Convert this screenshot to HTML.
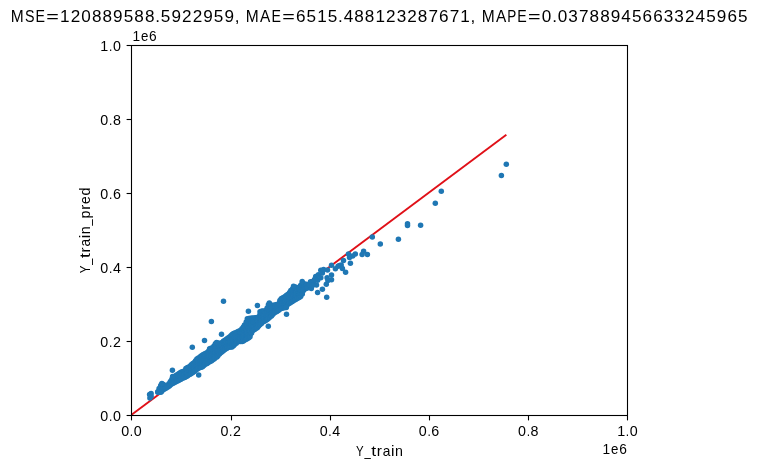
<!DOCTYPE html>
<html><head><meta charset="utf-8"><title>chart</title>
<style>html,body{margin:0;padding:0;background:#fff;overflow:hidden}body{width:758px;height:468px;font-family:"Liberation Sans",sans-serif}</style></head>
<body>
<svg width="758" height="468" viewBox="0 0 758 468" style="display:block;will-change:transform">
<rect width="758" height="468" fill="#fff"/>
<clipPath id="ax"><rect x="131.5" y="45.5" width="496.0" height="370.0"/></clipPath>
<line x1="131.5" y1="414.8" x2="505.6" y2="135.3" stroke="#e01018" stroke-width="1.9" stroke-linecap="square" clip-path="url(#ax)"/>
<g fill="#1f77b4">
<circle cx="157.8" cy="391.7" r="2.75"/>
<circle cx="159.1" cy="388.5" r="2.75"/>
<circle cx="159.4" cy="390.3" r="2.75"/>
<circle cx="159.1" cy="392.2" r="2.75"/>
<circle cx="160.7" cy="385.5" r="2.75"/>
<circle cx="160.6" cy="387.6" r="2.75"/>
<circle cx="160.5" cy="389.8" r="2.75"/>
<circle cx="160.7" cy="392.0" r="2.75"/>
<circle cx="161.8" cy="384.3" r="2.75"/>
<circle cx="162.0" cy="386.5" r="2.75"/>
<circle cx="161.9" cy="388.6" r="2.75"/>
<circle cx="161.9" cy="390.8" r="2.75"/>
<circle cx="163.4" cy="384.5" r="2.75"/>
<circle cx="163.6" cy="387.1" r="2.75"/>
<circle cx="163.3" cy="389.7" r="2.75"/>
<circle cx="164.7" cy="385.4" r="2.75"/>
<circle cx="164.9" cy="388.8" r="2.75"/>
<circle cx="166.5" cy="385.5" r="2.75"/>
<circle cx="166.3" cy="387.9" r="2.75"/>
<circle cx="167.6" cy="385.7" r="2.75"/>
<circle cx="167.9" cy="387.0" r="2.75"/>
<circle cx="168.9" cy="383.7" r="2.75"/>
<circle cx="169.3" cy="386.0" r="2.75"/>
<circle cx="170.4" cy="381.4" r="2.75"/>
<circle cx="170.3" cy="383.3" r="2.75"/>
<circle cx="170.3" cy="385.1" r="2.75"/>
<circle cx="171.8" cy="379.3" r="2.75"/>
<circle cx="172.0" cy="381.7" r="2.75"/>
<circle cx="171.7" cy="384.1" r="2.75"/>
<circle cx="173.3" cy="377.6" r="2.75"/>
<circle cx="173.3" cy="380.4" r="2.75"/>
<circle cx="173.2" cy="383.3" r="2.75"/>
<circle cx="174.7" cy="376.5" r="2.75"/>
<circle cx="174.5" cy="379.5" r="2.75"/>
<circle cx="174.5" cy="382.5" r="2.75"/>
<circle cx="175.9" cy="375.4" r="2.75"/>
<circle cx="176.2" cy="377.5" r="2.75"/>
<circle cx="176.0" cy="379.6" r="2.75"/>
<circle cx="176.0" cy="381.7" r="2.75"/>
<circle cx="177.5" cy="374.4" r="2.75"/>
<circle cx="177.5" cy="376.6" r="2.75"/>
<circle cx="177.4" cy="378.7" r="2.75"/>
<circle cx="177.6" cy="380.9" r="2.75"/>
<circle cx="179.0" cy="373.4" r="2.75"/>
<circle cx="178.8" cy="375.7" r="2.75"/>
<circle cx="178.9" cy="377.9" r="2.75"/>
<circle cx="178.9" cy="380.2" r="2.75"/>
<circle cx="180.5" cy="372.4" r="2.75"/>
<circle cx="180.4" cy="374.8" r="2.75"/>
<circle cx="180.2" cy="377.1" r="2.75"/>
<circle cx="180.5" cy="379.5" r="2.75"/>
<circle cx="181.5" cy="371.9" r="2.75"/>
<circle cx="181.6" cy="374.2" r="2.75"/>
<circle cx="181.8" cy="376.5" r="2.75"/>
<circle cx="181.5" cy="378.8" r="2.75"/>
<circle cx="183.1" cy="371.5" r="2.75"/>
<circle cx="182.8" cy="373.7" r="2.75"/>
<circle cx="183.2" cy="375.9" r="2.75"/>
<circle cx="183.2" cy="378.1" r="2.75"/>
<circle cx="184.5" cy="370.9" r="2.75"/>
<circle cx="184.7" cy="373.1" r="2.75"/>
<circle cx="184.4" cy="375.2" r="2.75"/>
<circle cx="184.6" cy="377.4" r="2.75"/>
<circle cx="185.9" cy="368.5" r="2.75"/>
<circle cx="185.9" cy="371.2" r="2.75"/>
<circle cx="185.9" cy="373.9" r="2.75"/>
<circle cx="186.0" cy="376.7" r="2.75"/>
<circle cx="187.5" cy="367.5" r="2.75"/>
<circle cx="187.3" cy="369.6" r="2.75"/>
<circle cx="187.4" cy="371.7" r="2.75"/>
<circle cx="187.1" cy="373.8" r="2.75"/>
<circle cx="187.4" cy="375.9" r="2.75"/>
<circle cx="188.8" cy="367.3" r="2.75"/>
<circle cx="188.9" cy="369.9" r="2.75"/>
<circle cx="188.8" cy="372.5" r="2.75"/>
<circle cx="188.6" cy="375.1" r="2.75"/>
<circle cx="190.0" cy="366.3" r="2.75"/>
<circle cx="190.2" cy="368.9" r="2.75"/>
<circle cx="189.8" cy="371.6" r="2.75"/>
<circle cx="190.1" cy="374.3" r="2.75"/>
<circle cx="191.3" cy="364.8" r="2.75"/>
<circle cx="191.3" cy="367.0" r="2.75"/>
<circle cx="191.3" cy="369.1" r="2.75"/>
<circle cx="191.6" cy="371.3" r="2.75"/>
<circle cx="191.3" cy="373.4" r="2.75"/>
<circle cx="192.8" cy="363.6" r="2.75"/>
<circle cx="192.8" cy="365.8" r="2.75"/>
<circle cx="193.1" cy="368.0" r="2.75"/>
<circle cx="192.7" cy="370.2" r="2.75"/>
<circle cx="192.9" cy="372.4" r="2.75"/>
<circle cx="194.3" cy="362.4" r="2.75"/>
<circle cx="194.5" cy="364.6" r="2.75"/>
<circle cx="194.4" cy="366.9" r="2.75"/>
<circle cx="194.5" cy="369.2" r="2.75"/>
<circle cx="194.2" cy="371.4" r="2.75"/>
<circle cx="195.6" cy="360.7" r="2.75"/>
<circle cx="195.6" cy="363.1" r="2.75"/>
<circle cx="195.9" cy="365.5" r="2.75"/>
<circle cx="195.9" cy="367.9" r="2.75"/>
<circle cx="195.5" cy="370.4" r="2.75"/>
<circle cx="196.9" cy="358.9" r="2.75"/>
<circle cx="196.9" cy="361.5" r="2.75"/>
<circle cx="196.9" cy="364.1" r="2.75"/>
<circle cx="197.1" cy="366.7" r="2.75"/>
<circle cx="197.1" cy="369.3" r="2.75"/>
<circle cx="198.4" cy="357.9" r="2.75"/>
<circle cx="198.2" cy="360.4" r="2.75"/>
<circle cx="198.4" cy="363.0" r="2.75"/>
<circle cx="198.4" cy="365.6" r="2.75"/>
<circle cx="198.5" cy="368.2" r="2.75"/>
<circle cx="200.1" cy="356.9" r="2.75"/>
<circle cx="200.0" cy="359.6" r="2.75"/>
<circle cx="199.9" cy="362.2" r="2.75"/>
<circle cx="199.9" cy="364.9" r="2.75"/>
<circle cx="200.0" cy="367.6" r="2.75"/>
<circle cx="201.1" cy="355.9" r="2.75"/>
<circle cx="201.5" cy="358.1" r="2.75"/>
<circle cx="201.4" cy="360.4" r="2.75"/>
<circle cx="201.5" cy="362.7" r="2.75"/>
<circle cx="201.4" cy="364.9" r="2.75"/>
<circle cx="201.2" cy="367.2" r="2.75"/>
<circle cx="202.6" cy="354.9" r="2.75"/>
<circle cx="202.5" cy="357.3" r="2.75"/>
<circle cx="202.7" cy="359.6" r="2.75"/>
<circle cx="202.5" cy="362.0" r="2.75"/>
<circle cx="202.5" cy="364.4" r="2.75"/>
<circle cx="202.5" cy="366.8" r="2.75"/>
<circle cx="203.9" cy="354.2" r="2.75"/>
<circle cx="204.0" cy="356.5" r="2.75"/>
<circle cx="203.9" cy="358.7" r="2.75"/>
<circle cx="203.8" cy="361.0" r="2.75"/>
<circle cx="203.9" cy="363.3" r="2.75"/>
<circle cx="203.9" cy="365.5" r="2.75"/>
<circle cx="205.4" cy="353.5" r="2.75"/>
<circle cx="205.2" cy="356.2" r="2.75"/>
<circle cx="205.7" cy="358.9" r="2.75"/>
<circle cx="205.5" cy="361.6" r="2.75"/>
<circle cx="205.3" cy="364.2" r="2.75"/>
<circle cx="206.8" cy="352.8" r="2.75"/>
<circle cx="206.8" cy="355.5" r="2.75"/>
<circle cx="206.8" cy="358.1" r="2.75"/>
<circle cx="206.7" cy="360.8" r="2.75"/>
<circle cx="207.1" cy="363.4" r="2.75"/>
<circle cx="208.5" cy="351.2" r="2.75"/>
<circle cx="208.3" cy="353.5" r="2.75"/>
<circle cx="208.3" cy="355.8" r="2.75"/>
<circle cx="208.1" cy="358.1" r="2.75"/>
<circle cx="208.1" cy="360.3" r="2.75"/>
<circle cx="208.2" cy="362.6" r="2.75"/>
<circle cx="209.6" cy="348.8" r="2.75"/>
<circle cx="209.8" cy="351.4" r="2.75"/>
<circle cx="209.5" cy="354.0" r="2.75"/>
<circle cx="209.4" cy="356.6" r="2.75"/>
<circle cx="209.9" cy="359.2" r="2.75"/>
<circle cx="209.7" cy="361.8" r="2.75"/>
<circle cx="210.9" cy="348.2" r="2.75"/>
<circle cx="211.1" cy="350.7" r="2.75"/>
<circle cx="210.8" cy="353.3" r="2.75"/>
<circle cx="211.1" cy="355.9" r="2.75"/>
<circle cx="211.3" cy="358.5" r="2.75"/>
<circle cx="211.3" cy="361.0" r="2.75"/>
<circle cx="212.6" cy="347.8" r="2.75"/>
<circle cx="212.4" cy="350.3" r="2.75"/>
<circle cx="212.4" cy="352.7" r="2.75"/>
<circle cx="212.3" cy="355.2" r="2.75"/>
<circle cx="212.6" cy="357.7" r="2.75"/>
<circle cx="212.5" cy="360.1" r="2.75"/>
<circle cx="214.0" cy="346.0" r="2.75"/>
<circle cx="213.8" cy="348.6" r="2.75"/>
<circle cx="213.7" cy="351.2" r="2.75"/>
<circle cx="214.0" cy="353.8" r="2.75"/>
<circle cx="214.1" cy="356.4" r="2.75"/>
<circle cx="214.1" cy="359.1" r="2.75"/>
<circle cx="215.4" cy="343.7" r="2.75"/>
<circle cx="215.4" cy="346.1" r="2.75"/>
<circle cx="215.4" cy="348.4" r="2.75"/>
<circle cx="215.1" cy="350.8" r="2.75"/>
<circle cx="215.3" cy="353.2" r="2.75"/>
<circle cx="215.2" cy="355.6" r="2.75"/>
<circle cx="215.0" cy="358.0" r="2.75"/>
<circle cx="216.4" cy="343.1" r="2.75"/>
<circle cx="216.6" cy="345.4" r="2.75"/>
<circle cx="216.6" cy="347.7" r="2.75"/>
<circle cx="216.8" cy="350.0" r="2.75"/>
<circle cx="216.9" cy="352.3" r="2.75"/>
<circle cx="216.7" cy="354.7" r="2.75"/>
<circle cx="216.9" cy="357.0" r="2.75"/>
<circle cx="218.3" cy="343.3" r="2.75"/>
<circle cx="218.3" cy="345.8" r="2.75"/>
<circle cx="218.0" cy="348.3" r="2.75"/>
<circle cx="217.9" cy="350.8" r="2.75"/>
<circle cx="217.9" cy="353.3" r="2.75"/>
<circle cx="217.9" cy="355.8" r="2.75"/>
<circle cx="219.3" cy="343.3" r="2.75"/>
<circle cx="219.5" cy="346.0" r="2.75"/>
<circle cx="219.7" cy="348.7" r="2.75"/>
<circle cx="219.7" cy="351.4" r="2.75"/>
<circle cx="219.5" cy="354.1" r="2.75"/>
<circle cx="221.0" cy="343.4" r="2.75"/>
<circle cx="221.0" cy="345.6" r="2.75"/>
<circle cx="220.7" cy="347.9" r="2.75"/>
<circle cx="221.0" cy="350.2" r="2.75"/>
<circle cx="221.1" cy="352.4" r="2.75"/>
<circle cx="222.4" cy="342.2" r="2.75"/>
<circle cx="222.4" cy="344.5" r="2.75"/>
<circle cx="222.3" cy="346.8" r="2.75"/>
<circle cx="222.1" cy="349.2" r="2.75"/>
<circle cx="222.4" cy="351.5" r="2.75"/>
<circle cx="223.6" cy="340.9" r="2.75"/>
<circle cx="223.8" cy="343.3" r="2.75"/>
<circle cx="223.9" cy="345.7" r="2.75"/>
<circle cx="223.6" cy="348.1" r="2.75"/>
<circle cx="223.6" cy="350.5" r="2.75"/>
<circle cx="225.3" cy="339.9" r="2.75"/>
<circle cx="225.2" cy="342.3" r="2.75"/>
<circle cx="224.9" cy="344.8" r="2.75"/>
<circle cx="224.9" cy="347.2" r="2.75"/>
<circle cx="224.9" cy="349.6" r="2.75"/>
<circle cx="226.7" cy="339.0" r="2.75"/>
<circle cx="226.6" cy="341.4" r="2.75"/>
<circle cx="226.3" cy="343.8" r="2.75"/>
<circle cx="226.6" cy="346.1" r="2.75"/>
<circle cx="226.7" cy="348.5" r="2.75"/>
<circle cx="228.0" cy="338.1" r="2.75"/>
<circle cx="227.8" cy="340.4" r="2.75"/>
<circle cx="227.9" cy="342.7" r="2.75"/>
<circle cx="227.7" cy="345.1" r="2.75"/>
<circle cx="227.6" cy="347.4" r="2.75"/>
<circle cx="229.5" cy="337.0" r="2.75"/>
<circle cx="229.4" cy="339.6" r="2.75"/>
<circle cx="229.3" cy="342.1" r="2.75"/>
<circle cx="229.5" cy="344.7" r="2.75"/>
<circle cx="229.2" cy="347.2" r="2.75"/>
<circle cx="230.9" cy="335.8" r="2.75"/>
<circle cx="230.8" cy="338.0" r="2.75"/>
<circle cx="230.5" cy="340.3" r="2.75"/>
<circle cx="230.6" cy="342.5" r="2.75"/>
<circle cx="230.6" cy="344.8" r="2.75"/>
<circle cx="230.6" cy="347.1" r="2.75"/>
<circle cx="232.1" cy="334.5" r="2.75"/>
<circle cx="232.0" cy="337.0" r="2.75"/>
<circle cx="232.0" cy="339.5" r="2.75"/>
<circle cx="231.9" cy="341.9" r="2.75"/>
<circle cx="232.3" cy="344.4" r="2.75"/>
<circle cx="232.0" cy="346.9" r="2.75"/>
<circle cx="233.5" cy="333.6" r="2.75"/>
<circle cx="233.5" cy="336.0" r="2.75"/>
<circle cx="233.7" cy="338.4" r="2.75"/>
<circle cx="233.4" cy="340.9" r="2.75"/>
<circle cx="233.7" cy="343.3" r="2.75"/>
<circle cx="233.5" cy="345.7" r="2.75"/>
<circle cx="234.9" cy="333.0" r="2.75"/>
<circle cx="234.9" cy="335.3" r="2.75"/>
<circle cx="234.6" cy="337.7" r="2.75"/>
<circle cx="234.9" cy="340.0" r="2.75"/>
<circle cx="234.7" cy="342.3" r="2.75"/>
<circle cx="234.6" cy="344.6" r="2.75"/>
<circle cx="236.4" cy="332.5" r="2.75"/>
<circle cx="236.1" cy="335.2" r="2.75"/>
<circle cx="236.3" cy="337.8" r="2.75"/>
<circle cx="236.4" cy="340.5" r="2.75"/>
<circle cx="236.3" cy="343.2" r="2.75"/>
<circle cx="237.6" cy="331.8" r="2.75"/>
<circle cx="237.7" cy="334.2" r="2.75"/>
<circle cx="237.7" cy="336.6" r="2.75"/>
<circle cx="237.8" cy="339.0" r="2.75"/>
<circle cx="237.5" cy="341.4" r="2.75"/>
<circle cx="239.1" cy="331.1" r="2.75"/>
<circle cx="239.0" cy="333.7" r="2.75"/>
<circle cx="239.0" cy="336.3" r="2.75"/>
<circle cx="239.2" cy="338.9" r="2.75"/>
<circle cx="239.1" cy="341.4" r="2.75"/>
<circle cx="240.5" cy="330.4" r="2.75"/>
<circle cx="240.6" cy="332.6" r="2.75"/>
<circle cx="240.7" cy="334.8" r="2.75"/>
<circle cx="240.5" cy="337.0" r="2.75"/>
<circle cx="240.5" cy="339.2" r="2.75"/>
<circle cx="240.5" cy="341.5" r="2.75"/>
<circle cx="241.9" cy="328.8" r="2.75"/>
<circle cx="242.0" cy="331.4" r="2.75"/>
<circle cx="241.9" cy="333.9" r="2.75"/>
<circle cx="241.9" cy="336.5" r="2.75"/>
<circle cx="241.9" cy="339.0" r="2.75"/>
<circle cx="242.1" cy="341.5" r="2.75"/>
<circle cx="243.4" cy="327.1" r="2.75"/>
<circle cx="243.5" cy="329.4" r="2.75"/>
<circle cx="243.5" cy="331.7" r="2.75"/>
<circle cx="243.2" cy="334.1" r="2.75"/>
<circle cx="243.3" cy="336.4" r="2.75"/>
<circle cx="243.5" cy="338.7" r="2.75"/>
<circle cx="243.4" cy="341.0" r="2.75"/>
<circle cx="244.5" cy="324.9" r="2.75"/>
<circle cx="244.5" cy="327.4" r="2.75"/>
<circle cx="244.7" cy="329.9" r="2.75"/>
<circle cx="244.5" cy="332.4" r="2.75"/>
<circle cx="244.6" cy="334.9" r="2.75"/>
<circle cx="244.5" cy="337.4" r="2.75"/>
<circle cx="244.8" cy="339.9" r="2.75"/>
<circle cx="246.2" cy="322.0" r="2.75"/>
<circle cx="246.3" cy="324.4" r="2.75"/>
<circle cx="245.9" cy="326.9" r="2.75"/>
<circle cx="246.2" cy="329.3" r="2.75"/>
<circle cx="246.2" cy="331.8" r="2.75"/>
<circle cx="245.9" cy="334.3" r="2.75"/>
<circle cx="246.3" cy="336.7" r="2.75"/>
<circle cx="246.3" cy="339.2" r="2.75"/>
<circle cx="247.3" cy="318.8" r="2.75"/>
<circle cx="247.7" cy="321.2" r="2.75"/>
<circle cx="247.4" cy="323.7" r="2.75"/>
<circle cx="247.5" cy="326.1" r="2.75"/>
<circle cx="247.7" cy="328.6" r="2.75"/>
<circle cx="247.6" cy="331.1" r="2.75"/>
<circle cx="247.3" cy="333.5" r="2.75"/>
<circle cx="247.4" cy="336.0" r="2.75"/>
<circle cx="247.5" cy="338.5" r="2.75"/>
<circle cx="248.8" cy="318.4" r="2.75"/>
<circle cx="248.7" cy="320.8" r="2.75"/>
<circle cx="248.8" cy="323.2" r="2.75"/>
<circle cx="249.0" cy="325.6" r="2.75"/>
<circle cx="248.6" cy="328.1" r="2.75"/>
<circle cx="248.9" cy="330.5" r="2.75"/>
<circle cx="248.9" cy="332.9" r="2.75"/>
<circle cx="248.6" cy="335.3" r="2.75"/>
<circle cx="248.8" cy="337.7" r="2.75"/>
<circle cx="250.3" cy="318.3" r="2.75"/>
<circle cx="250.3" cy="320.6" r="2.75"/>
<circle cx="250.1" cy="322.9" r="2.75"/>
<circle cx="250.5" cy="325.2" r="2.75"/>
<circle cx="250.4" cy="327.5" r="2.75"/>
<circle cx="250.5" cy="329.8" r="2.75"/>
<circle cx="250.1" cy="332.1" r="2.75"/>
<circle cx="250.2" cy="334.4" r="2.75"/>
<circle cx="250.0" cy="336.7" r="2.75"/>
<circle cx="251.8" cy="318.2" r="2.75"/>
<circle cx="251.6" cy="320.7" r="2.75"/>
<circle cx="251.5" cy="323.1" r="2.75"/>
<circle cx="251.6" cy="325.6" r="2.75"/>
<circle cx="251.9" cy="328.1" r="2.75"/>
<circle cx="251.8" cy="330.6" r="2.75"/>
<circle cx="251.6" cy="333.1" r="2.75"/>
<circle cx="252.9" cy="318.1" r="2.75"/>
<circle cx="253.3" cy="320.5" r="2.75"/>
<circle cx="253.1" cy="323.0" r="2.75"/>
<circle cx="253.2" cy="325.5" r="2.75"/>
<circle cx="252.9" cy="327.9" r="2.75"/>
<circle cx="252.9" cy="330.4" r="2.75"/>
<circle cx="254.6" cy="317.9" r="2.75"/>
<circle cx="254.4" cy="320.2" r="2.75"/>
<circle cx="254.3" cy="322.5" r="2.75"/>
<circle cx="254.7" cy="324.9" r="2.75"/>
<circle cx="254.5" cy="327.2" r="2.75"/>
<circle cx="254.6" cy="329.5" r="2.75"/>
<circle cx="255.7" cy="317.7" r="2.75"/>
<circle cx="256.1" cy="319.9" r="2.75"/>
<circle cx="255.7" cy="322.1" r="2.75"/>
<circle cx="256.1" cy="324.2" r="2.75"/>
<circle cx="255.9" cy="326.4" r="2.75"/>
<circle cx="255.8" cy="328.6" r="2.75"/>
<circle cx="257.3" cy="317.5" r="2.75"/>
<circle cx="257.5" cy="320.0" r="2.75"/>
<circle cx="257.2" cy="322.6" r="2.75"/>
<circle cx="257.1" cy="325.2" r="2.75"/>
<circle cx="257.3" cy="327.7" r="2.75"/>
<circle cx="258.5" cy="317.0" r="2.75"/>
<circle cx="258.5" cy="319.3" r="2.75"/>
<circle cx="258.5" cy="321.6" r="2.75"/>
<circle cx="258.5" cy="324.0" r="2.75"/>
<circle cx="258.5" cy="326.3" r="2.75"/>
<circle cx="260.0" cy="311.8" r="2.75"/>
<circle cx="260.0" cy="314.4" r="2.75"/>
<circle cx="260.2" cy="317.0" r="2.75"/>
<circle cx="260.0" cy="319.6" r="2.75"/>
<circle cx="260.1" cy="322.2" r="2.75"/>
<circle cx="259.9" cy="324.8" r="2.75"/>
<circle cx="261.4" cy="311.2" r="2.75"/>
<circle cx="261.2" cy="313.7" r="2.75"/>
<circle cx="261.4" cy="316.1" r="2.75"/>
<circle cx="261.2" cy="318.5" r="2.75"/>
<circle cx="261.6" cy="320.9" r="2.75"/>
<circle cx="261.5" cy="323.4" r="2.75"/>
<circle cx="262.7" cy="311.0" r="2.75"/>
<circle cx="262.9" cy="313.2" r="2.75"/>
<circle cx="263.1" cy="315.5" r="2.75"/>
<circle cx="262.7" cy="317.7" r="2.75"/>
<circle cx="263.0" cy="319.9" r="2.75"/>
<circle cx="262.8" cy="322.1" r="2.75"/>
<circle cx="264.3" cy="310.9" r="2.75"/>
<circle cx="264.4" cy="313.5" r="2.75"/>
<circle cx="264.2" cy="316.1" r="2.75"/>
<circle cx="264.3" cy="318.7" r="2.75"/>
<circle cx="264.4" cy="321.3" r="2.75"/>
<circle cx="265.9" cy="310.7" r="2.75"/>
<circle cx="265.6" cy="313.1" r="2.75"/>
<circle cx="265.8" cy="315.6" r="2.75"/>
<circle cx="265.8" cy="318.0" r="2.75"/>
<circle cx="265.7" cy="320.5" r="2.75"/>
<circle cx="267.0" cy="308.3" r="2.75"/>
<circle cx="267.0" cy="310.6" r="2.75"/>
<circle cx="266.9" cy="312.8" r="2.75"/>
<circle cx="266.9" cy="315.1" r="2.75"/>
<circle cx="266.9" cy="317.3" r="2.75"/>
<circle cx="267.2" cy="319.6" r="2.75"/>
<circle cx="268.4" cy="304.7" r="2.75"/>
<circle cx="268.3" cy="307.0" r="2.75"/>
<circle cx="268.3" cy="309.3" r="2.75"/>
<circle cx="268.7" cy="311.6" r="2.75"/>
<circle cx="268.7" cy="313.9" r="2.75"/>
<circle cx="268.6" cy="316.2" r="2.75"/>
<circle cx="268.4" cy="318.4" r="2.75"/>
<circle cx="269.8" cy="304.4" r="2.75"/>
<circle cx="269.8" cy="307.0" r="2.75"/>
<circle cx="269.9" cy="309.5" r="2.75"/>
<circle cx="269.7" cy="312.1" r="2.75"/>
<circle cx="269.9" cy="314.7" r="2.75"/>
<circle cx="269.8" cy="317.3" r="2.75"/>
<circle cx="271.5" cy="305.4" r="2.75"/>
<circle cx="271.5" cy="308.0" r="2.75"/>
<circle cx="271.3" cy="310.7" r="2.75"/>
<circle cx="271.2" cy="313.4" r="2.75"/>
<circle cx="271.5" cy="316.0" r="2.75"/>
<circle cx="272.6" cy="305.3" r="2.75"/>
<circle cx="272.6" cy="307.7" r="2.75"/>
<circle cx="272.4" cy="310.0" r="2.75"/>
<circle cx="272.6" cy="312.3" r="2.75"/>
<circle cx="272.7" cy="314.6" r="2.75"/>
<circle cx="274.1" cy="305.3" r="2.75"/>
<circle cx="273.9" cy="307.9" r="2.75"/>
<circle cx="274.1" cy="310.6" r="2.75"/>
<circle cx="273.8" cy="313.2" r="2.75"/>
<circle cx="275.4" cy="304.9" r="2.75"/>
<circle cx="275.3" cy="307.4" r="2.75"/>
<circle cx="275.4" cy="309.8" r="2.75"/>
<circle cx="275.3" cy="312.3" r="2.75"/>
<circle cx="276.6" cy="304.6" r="2.75"/>
<circle cx="276.8" cy="306.9" r="2.75"/>
<circle cx="276.7" cy="309.1" r="2.75"/>
<circle cx="276.9" cy="311.4" r="2.75"/>
<circle cx="278.3" cy="304.2" r="2.75"/>
<circle cx="278.4" cy="306.3" r="2.75"/>
<circle cx="278.4" cy="308.5" r="2.75"/>
<circle cx="278.4" cy="310.6" r="2.75"/>
<circle cx="279.9" cy="300.4" r="2.75"/>
<circle cx="279.6" cy="302.7" r="2.75"/>
<circle cx="279.6" cy="305.0" r="2.75"/>
<circle cx="279.9" cy="307.3" r="2.75"/>
<circle cx="279.5" cy="309.6" r="2.75"/>
<circle cx="281.2" cy="298.8" r="2.75"/>
<circle cx="281.2" cy="301.3" r="2.75"/>
<circle cx="280.9" cy="303.7" r="2.75"/>
<circle cx="281.2" cy="306.1" r="2.75"/>
<circle cx="281.3" cy="308.5" r="2.75"/>
<circle cx="282.5" cy="298.0" r="2.75"/>
<circle cx="282.6" cy="300.5" r="2.75"/>
<circle cx="282.6" cy="303.0" r="2.75"/>
<circle cx="282.3" cy="305.5" r="2.75"/>
<circle cx="282.5" cy="308.0" r="2.75"/>
<circle cx="283.9" cy="297.2" r="2.75"/>
<circle cx="284.0" cy="299.8" r="2.75"/>
<circle cx="284.0" cy="302.5" r="2.75"/>
<circle cx="284.0" cy="305.1" r="2.75"/>
<circle cx="283.9" cy="307.7" r="2.75"/>
<circle cx="285.5" cy="296.3" r="2.75"/>
<circle cx="285.4" cy="298.6" r="2.75"/>
<circle cx="285.4" cy="300.8" r="2.75"/>
<circle cx="285.1" cy="303.0" r="2.75"/>
<circle cx="285.0" cy="305.2" r="2.75"/>
<circle cx="285.1" cy="307.5" r="2.75"/>
<circle cx="286.6" cy="295.3" r="2.75"/>
<circle cx="286.5" cy="297.9" r="2.75"/>
<circle cx="286.8" cy="300.6" r="2.75"/>
<circle cx="286.7" cy="303.2" r="2.75"/>
<circle cx="286.7" cy="305.8" r="2.75"/>
<circle cx="288.1" cy="294.2" r="2.75"/>
<circle cx="288.2" cy="296.6" r="2.75"/>
<circle cx="288.1" cy="299.1" r="2.75"/>
<circle cx="287.8" cy="301.6" r="2.75"/>
<circle cx="288.2" cy="304.1" r="2.75"/>
<circle cx="289.6" cy="292.4" r="2.75"/>
<circle cx="289.5" cy="294.5" r="2.75"/>
<circle cx="289.5" cy="296.7" r="2.75"/>
<circle cx="289.6" cy="298.9" r="2.75"/>
<circle cx="289.3" cy="301.0" r="2.75"/>
<circle cx="289.6" cy="303.2" r="2.75"/>
<circle cx="290.8" cy="290.6" r="2.75"/>
<circle cx="290.7" cy="292.9" r="2.75"/>
<circle cx="290.8" cy="295.3" r="2.75"/>
<circle cx="291.0" cy="297.6" r="2.75"/>
<circle cx="290.7" cy="299.9" r="2.75"/>
<circle cx="291.0" cy="302.3" r="2.75"/>
<circle cx="292.5" cy="288.9" r="2.75"/>
<circle cx="292.3" cy="291.4" r="2.75"/>
<circle cx="292.2" cy="293.9" r="2.75"/>
<circle cx="292.3" cy="296.4" r="2.75"/>
<circle cx="292.4" cy="298.9" r="2.75"/>
<circle cx="292.4" cy="301.4" r="2.75"/>
<circle cx="293.7" cy="287.3" r="2.75"/>
<circle cx="293.8" cy="289.5" r="2.75"/>
<circle cx="293.5" cy="291.7" r="2.75"/>
<circle cx="293.5" cy="293.9" r="2.75"/>
<circle cx="293.6" cy="296.1" r="2.75"/>
<circle cx="293.8" cy="298.3" r="2.75"/>
<circle cx="293.6" cy="300.5" r="2.75"/>
<circle cx="295.1" cy="287.1" r="2.75"/>
<circle cx="294.8" cy="289.7" r="2.75"/>
<circle cx="294.9" cy="292.2" r="2.75"/>
<circle cx="295.0" cy="294.7" r="2.75"/>
<circle cx="295.2" cy="297.2" r="2.75"/>
<circle cx="295.2" cy="299.7" r="2.75"/>
<circle cx="296.6" cy="287.6" r="2.75"/>
<circle cx="296.4" cy="289.9" r="2.75"/>
<circle cx="296.5" cy="292.1" r="2.75"/>
<circle cx="296.5" cy="294.4" r="2.75"/>
<circle cx="296.5" cy="296.7" r="2.75"/>
<circle cx="296.3" cy="299.0" r="2.75"/>
<circle cx="298.1" cy="287.7" r="2.75"/>
<circle cx="297.7" cy="290.3" r="2.75"/>
<circle cx="298.1" cy="292.9" r="2.75"/>
<circle cx="298.1" cy="295.6" r="2.75"/>
<circle cx="297.6" cy="298.2" r="2.75"/>
<circle cx="299.3" cy="287.4" r="2.75"/>
<circle cx="299.4" cy="289.9" r="2.75"/>
<circle cx="299.5" cy="292.4" r="2.75"/>
<circle cx="299.3" cy="294.9" r="2.75"/>
<circle cx="299.2" cy="297.4" r="2.75"/>
<circle cx="300.5" cy="285.4" r="2.75"/>
<circle cx="300.9" cy="287.6" r="2.75"/>
<circle cx="300.5" cy="289.9" r="2.75"/>
<circle cx="300.7" cy="292.1" r="2.75"/>
<circle cx="300.5" cy="294.4" r="2.75"/>
<circle cx="300.7" cy="296.6" r="2.75"/>
<circle cx="302.3" cy="283.3" r="2.75"/>
<circle cx="301.9" cy="286.0" r="2.75"/>
<circle cx="302.2" cy="288.6" r="2.75"/>
<circle cx="302.1" cy="291.3" r="2.75"/>
<circle cx="302.3" cy="293.9" r="2.75"/>
<circle cx="303.6" cy="283.6" r="2.75"/>
<circle cx="303.3" cy="285.8" r="2.75"/>
<circle cx="303.7" cy="288.1" r="2.75"/>
<circle cx="303.5" cy="290.4" r="2.75"/>
<circle cx="304.6" cy="284.4" r="2.75"/>
<circle cx="304.6" cy="286.7" r="2.75"/>
<circle cx="304.9" cy="289.0" r="2.75"/>
<circle cx="306.3" cy="284.3" r="2.75"/>
<circle cx="306.2" cy="286.3" r="2.75"/>
<circle cx="306.1" cy="288.2" r="2.75"/>
<circle cx="161.9" cy="383.4" r="2.75"/>
<circle cx="216.6" cy="342.6" r="2.75"/>
<circle cx="269.3" cy="303.1" r="2.75"/>
<circle cx="293.5" cy="286.2" r="2.75"/>
<circle cx="302.2" cy="281.4" r="2.75"/>
<circle cx="151.1" cy="393.6" r="2.75"/>
<circle cx="149.6" cy="394.6" r="2.75"/>
<circle cx="149.9" cy="397.9" r="2.75"/>
<circle cx="151.1" cy="396.2" r="2.75"/>
<circle cx="157.8" cy="392.3" r="2.75"/>
<circle cx="161.2" cy="392.1" r="2.75"/>
<circle cx="172.6" cy="376.4" r="2.75"/>
<circle cx="286.3" cy="307.6" r="2.75"/>
<circle cx="172.4" cy="370.2" r="2.75"/>
<circle cx="192.3" cy="347.3" r="2.75"/>
<circle cx="204.5" cy="340.4" r="2.75"/>
<circle cx="198.7" cy="375.1" r="2.75"/>
<circle cx="223.5" cy="301.2" r="2.75"/>
<circle cx="211.4" cy="321.5" r="2.75"/>
<circle cx="221.5" cy="334.3" r="2.75"/>
<circle cx="248.4" cy="311.3" r="2.75"/>
<circle cx="257.4" cy="305.4" r="2.75"/>
<circle cx="268.3" cy="326.2" r="2.75"/>
<circle cx="286.5" cy="314.3" r="2.75"/>
<circle cx="307.4" cy="288.1" r="2.75"/>
<circle cx="311.3" cy="288.5" r="2.75"/>
<circle cx="310.5" cy="281.8" r="2.75"/>
<circle cx="313.3" cy="282.2" r="2.75"/>
<circle cx="315.7" cy="276.6" r="2.75"/>
<circle cx="316.5" cy="284.9" r="2.75"/>
<circle cx="317.6" cy="280.2" r="2.75"/>
<circle cx="318.4" cy="274.7" r="2.75"/>
<circle cx="320.8" cy="270.3" r="2.75"/>
<circle cx="320.8" cy="277.8" r="2.75"/>
<circle cx="322.4" cy="273.1" r="2.75"/>
<circle cx="323.6" cy="269.5" r="2.75"/>
<circle cx="327.5" cy="269.9" r="2.75"/>
<circle cx="331.5" cy="265.2" r="2.75"/>
<circle cx="335.4" cy="268.7" r="2.75"/>
<circle cx="338.0" cy="266.2" r="2.75"/>
<circle cx="339.5" cy="265.4" r="2.75"/>
<circle cx="341.2" cy="265.1" r="2.75"/>
<circle cx="342.4" cy="268.5" r="2.75"/>
<circle cx="345.6" cy="272.3" r="2.75"/>
<circle cx="327.1" cy="277.8" r="2.75"/>
<circle cx="331.5" cy="275.1" r="2.75"/>
<circle cx="331.5" cy="279.8" r="2.75"/>
<circle cx="327.9" cy="280.6" r="2.75"/>
<circle cx="326.3" cy="284.2" r="2.75"/>
<circle cx="322.4" cy="289.3" r="2.75"/>
<circle cx="317.6" cy="292.5" r="2.75"/>
<circle cx="326.7" cy="297.2" r="2.75"/>
<circle cx="309.0" cy="284.5" r="2.75"/>
<circle cx="312.5" cy="285.5" r="2.75"/>
<circle cx="314.5" cy="279.5" r="2.75"/>
<circle cx="372.3" cy="237.1" r="2.75"/>
<circle cx="380.3" cy="244.1" r="2.75"/>
<circle cx="398.4" cy="239.3" r="2.75"/>
<circle cx="363.6" cy="251.2" r="2.75"/>
<circle cx="362.1" cy="254.4" r="2.75"/>
<circle cx="367.4" cy="254.4" r="2.75"/>
<circle cx="355.3" cy="254.0" r="2.75"/>
<circle cx="352.7" cy="255.9" r="2.75"/>
<circle cx="348.5" cy="254.0" r="2.75"/>
<circle cx="349.5" cy="257.4" r="2.75"/>
<circle cx="343.5" cy="260.4" r="2.75"/>
<circle cx="350.4" cy="263.3" r="2.75"/>
<circle cx="407.5" cy="223.8" r="2.75"/>
<circle cx="407.5" cy="225.5" r="2.75"/>
<circle cx="420.6" cy="225.3" r="2.75"/>
<circle cx="435.3" cy="203.2" r="2.75"/>
<circle cx="441.3" cy="191.3" r="2.75"/>
<circle cx="501.4" cy="175.4" r="2.75"/>
<circle cx="506.3" cy="164.3" r="2.75"/>
</g>
<rect x="131.5" y="45.5" width="496.0" height="370.0" fill="none" stroke="#000" stroke-width="1.1"/>
<g stroke="#000" stroke-width="1.1">
<line x1="131.50" y1="415.50" x2="131.50" y2="420.40"/>
<line x1="131.50" y1="415.50" x2="126.60" y2="415.50"/>
<line x1="231.50" y1="415.50" x2="231.50" y2="420.40"/>
<line x1="131.50" y1="341.50" x2="126.60" y2="341.50"/>
<line x1="330.50" y1="415.50" x2="330.50" y2="420.40"/>
<line x1="131.50" y1="267.50" x2="126.60" y2="267.50"/>
<line x1="429.50" y1="415.50" x2="429.50" y2="420.40"/>
<line x1="131.50" y1="193.50" x2="126.60" y2="193.50"/>
<line x1="528.50" y1="415.50" x2="528.50" y2="420.40"/>
<line x1="131.50" y1="119.50" x2="126.60" y2="119.50"/>
<line x1="627.50" y1="415.50" x2="627.50" y2="420.40"/>
<line x1="131.50" y1="45.50" x2="126.60" y2="45.50"/>
</g>
<g font-family="'Liberation Sans', sans-serif" fill="#000">
<text x="121.26" y="435.80" font-size="14.14" textLength="7.95" lengthAdjust="spacingAndGlyphs">0</text><text x="129.84" y="435.80" font-size="14.14" textLength="3.33" lengthAdjust="spacingAndGlyphs">.</text><text x="133.79" y="435.80" font-size="14.14" textLength="7.95" lengthAdjust="spacingAndGlyphs">0</text>
<text x="100.37" y="420.50" font-size="14.14" textLength="7.95" lengthAdjust="spacingAndGlyphs">0</text><text x="108.95" y="420.50" font-size="14.14" textLength="3.33" lengthAdjust="spacingAndGlyphs">.</text><text x="112.91" y="420.50" font-size="14.14" textLength="7.95" lengthAdjust="spacingAndGlyphs">0</text>
<text x="220.46" y="435.80" font-size="14.14" textLength="7.95" lengthAdjust="spacingAndGlyphs">0</text><text x="229.03" y="435.80" font-size="14.14" textLength="3.33" lengthAdjust="spacingAndGlyphs">.</text><text x="232.99" y="435.80" font-size="14.14" textLength="7.95" lengthAdjust="spacingAndGlyphs">2</text>
<text x="100.37" y="346.58" font-size="14.14" textLength="7.95" lengthAdjust="spacingAndGlyphs">0</text><text x="108.95" y="346.58" font-size="14.14" textLength="3.33" lengthAdjust="spacingAndGlyphs">.</text><text x="112.91" y="346.58" font-size="14.14" textLength="7.95" lengthAdjust="spacingAndGlyphs">2</text>
<text x="319.66" y="435.80" font-size="14.14" textLength="7.95" lengthAdjust="spacingAndGlyphs">0</text><text x="328.23" y="435.80" font-size="14.14" textLength="3.33" lengthAdjust="spacingAndGlyphs">.</text><text x="332.19" y="435.80" font-size="14.14" textLength="7.95" lengthAdjust="spacingAndGlyphs">4</text>
<text x="100.37" y="272.66" font-size="14.14" textLength="7.95" lengthAdjust="spacingAndGlyphs">0</text><text x="108.95" y="272.66" font-size="14.14" textLength="3.33" lengthAdjust="spacingAndGlyphs">.</text><text x="112.91" y="272.66" font-size="14.14" textLength="7.95" lengthAdjust="spacingAndGlyphs">4</text>
<text x="418.86" y="435.80" font-size="14.14" textLength="7.95" lengthAdjust="spacingAndGlyphs">0</text><text x="427.44" y="435.80" font-size="14.14" textLength="3.33" lengthAdjust="spacingAndGlyphs">.</text><text x="431.39" y="435.80" font-size="14.14" textLength="7.95" lengthAdjust="spacingAndGlyphs">6</text>
<text x="100.37" y="198.74" font-size="14.14" textLength="7.95" lengthAdjust="spacingAndGlyphs">0</text><text x="108.95" y="198.74" font-size="14.14" textLength="3.33" lengthAdjust="spacingAndGlyphs">.</text><text x="112.91" y="198.74" font-size="14.14" textLength="7.95" lengthAdjust="spacingAndGlyphs">6</text>
<text x="518.06" y="435.80" font-size="14.14" textLength="7.95" lengthAdjust="spacingAndGlyphs">0</text><text x="526.63" y="435.80" font-size="14.14" textLength="3.33" lengthAdjust="spacingAndGlyphs">.</text><text x="530.59" y="435.80" font-size="14.14" textLength="7.95" lengthAdjust="spacingAndGlyphs">8</text>
<text x="100.37" y="124.82" font-size="14.14" textLength="7.95" lengthAdjust="spacingAndGlyphs">0</text><text x="108.95" y="124.82" font-size="14.14" textLength="3.33" lengthAdjust="spacingAndGlyphs">.</text><text x="112.91" y="124.82" font-size="14.14" textLength="7.95" lengthAdjust="spacingAndGlyphs">8</text>
<text x="617.26" y="435.80" font-size="14.14" textLength="7.95" lengthAdjust="spacingAndGlyphs">1</text><text x="625.84" y="435.80" font-size="14.14" textLength="3.33" lengthAdjust="spacingAndGlyphs">.</text><text x="629.79" y="435.80" font-size="14.14" textLength="7.95" lengthAdjust="spacingAndGlyphs">0</text>
<text x="100.37" y="50.90" font-size="14.14" textLength="7.95" lengthAdjust="spacingAndGlyphs">1</text><text x="108.95" y="50.90" font-size="14.14" textLength="3.33" lengthAdjust="spacingAndGlyphs">.</text><text x="112.91" y="50.90" font-size="14.14" textLength="7.95" lengthAdjust="spacingAndGlyphs">0</text>
<text x="132.42" y="40.60" font-size="14.14" textLength="7.63" lengthAdjust="spacingAndGlyphs">1</text><text x="140.89" y="40.60" font-size="14.14" textLength="7.38" lengthAdjust="spacingAndGlyphs">e</text><text x="149.11" y="40.60" font-size="14.14" textLength="7.63" lengthAdjust="spacingAndGlyphs">6</text>
<text x="602.55" y="453.90" font-size="14.14" textLength="7.63" lengthAdjust="spacingAndGlyphs">1</text><text x="611.02" y="453.90" font-size="14.14" textLength="7.38" lengthAdjust="spacingAndGlyphs">e</text><text x="619.24" y="453.90" font-size="14.14" textLength="7.63" lengthAdjust="spacingAndGlyphs">6</text>
<text x="356.05" y="455.90" font-size="14.14" textLength="7.64" lengthAdjust="spacingAndGlyphs">Y</text><text x="364.45" y="455.90" font-size="14.14" textLength="6.25" lengthAdjust="spacingAndGlyphs">_</text><text x="371.32" y="455.90" font-size="14.14" textLength="4.90" lengthAdjust="spacingAndGlyphs">t</text><text x="376.78" y="455.90" font-size="14.14" textLength="5.14" lengthAdjust="spacingAndGlyphs">r</text><text x="382.63" y="455.90" font-size="14.14" textLength="7.66" lengthAdjust="spacingAndGlyphs">a</text><text x="390.91" y="455.90" font-size="14.14" textLength="3.47" lengthAdjust="spacingAndGlyphs">i</text><text x="395.02" y="455.90" font-size="14.14" textLength="7.92" lengthAdjust="spacingAndGlyphs">n</text>
<g transform="translate(90.1,230.3) rotate(-90)"><text x="-42.87" y="0.00" font-size="14.14" textLength="7.64" lengthAdjust="spacingAndGlyphs">Y</text><text x="-34.46" y="0.00" font-size="14.14" textLength="6.25" lengthAdjust="spacingAndGlyphs">_</text><text x="-27.59" y="0.00" font-size="14.14" textLength="4.90" lengthAdjust="spacingAndGlyphs">t</text><text x="-22.13" y="0.00" font-size="14.14" textLength="5.14" lengthAdjust="spacingAndGlyphs">r</text><text x="-16.28" y="0.00" font-size="14.14" textLength="7.66" lengthAdjust="spacingAndGlyphs">a</text><text x="-8.01" y="0.00" font-size="14.14" textLength="3.47" lengthAdjust="spacingAndGlyphs">i</text><text x="-3.90" y="0.00" font-size="14.14" textLength="7.92" lengthAdjust="spacingAndGlyphs">n</text><text x="4.81" y="0.00" font-size="14.14" textLength="6.25" lengthAdjust="spacingAndGlyphs">_</text><text x="11.85" y="0.00" font-size="14.14" textLength="7.93" lengthAdjust="spacingAndGlyphs">p</text><text x="20.51" y="0.00" font-size="14.14" textLength="5.14" lengthAdjust="spacingAndGlyphs">r</text><text x="26.36" y="0.00" font-size="14.14" textLength="7.69" lengthAdjust="spacingAndGlyphs">e</text><text x="34.92" y="0.00" font-size="14.14" textLength="7.93" lengthAdjust="spacingAndGlyphs">d</text></g>
<text x="10.84" y="21.80" font-size="16.97" textLength="12.94" lengthAdjust="spacingAndGlyphs">M</text><text x="25.03" y="21.80" font-size="16.97" textLength="9.52" lengthAdjust="spacingAndGlyphs">S</text><text x="35.61" y="21.80" font-size="16.97" textLength="9.48" lengthAdjust="spacingAndGlyphs">E</text><text x="46.31" y="21.80" font-size="16.97" textLength="12.57" lengthAdjust="spacingAndGlyphs">=</text><text x="60.11" y="21.80" font-size="16.97" textLength="9.54" lengthAdjust="spacingAndGlyphs">1</text><text x="70.71" y="21.80" font-size="16.97" textLength="9.54" lengthAdjust="spacingAndGlyphs">2</text><text x="81.32" y="21.80" font-size="16.97" textLength="9.54" lengthAdjust="spacingAndGlyphs">0</text><text x="91.92" y="21.80" font-size="16.97" textLength="9.54" lengthAdjust="spacingAndGlyphs">8</text><text x="102.53" y="21.80" font-size="16.97" textLength="9.54" lengthAdjust="spacingAndGlyphs">8</text><text x="113.13" y="21.80" font-size="16.97" textLength="9.54" lengthAdjust="spacingAndGlyphs">9</text><text x="123.73" y="21.80" font-size="16.97" textLength="9.54" lengthAdjust="spacingAndGlyphs">5</text><text x="134.34" y="21.80" font-size="16.97" textLength="9.54" lengthAdjust="spacingAndGlyphs">8</text><text x="144.94" y="21.80" font-size="16.97" textLength="9.54" lengthAdjust="spacingAndGlyphs">8</text><text x="155.28" y="21.80" font-size="16.97" textLength="4.77" lengthAdjust="spacingAndGlyphs">.</text><text x="160.84" y="21.80" font-size="16.97" textLength="9.54" lengthAdjust="spacingAndGlyphs">5</text><text x="171.45" y="21.80" font-size="16.97" textLength="9.54" lengthAdjust="spacingAndGlyphs">9</text><text x="182.05" y="21.80" font-size="16.97" textLength="9.54" lengthAdjust="spacingAndGlyphs">2</text><text x="192.66" y="21.80" font-size="16.97" textLength="9.54" lengthAdjust="spacingAndGlyphs">2</text><text x="203.26" y="21.80" font-size="16.97" textLength="9.54" lengthAdjust="spacingAndGlyphs">9</text><text x="213.86" y="21.80" font-size="16.97" textLength="9.54" lengthAdjust="spacingAndGlyphs">5</text><text x="224.47" y="21.80" font-size="16.97" textLength="9.54" lengthAdjust="spacingAndGlyphs">9</text><text x="234.81" y="21.80" font-size="16.97" textLength="4.77" lengthAdjust="spacingAndGlyphs">,</text><text x="245.86" y="21.80" font-size="16.97" textLength="12.94" lengthAdjust="spacingAndGlyphs">M</text><text x="260.09" y="21.80" font-size="16.97" textLength="10.26" lengthAdjust="spacingAndGlyphs">A</text><text x="271.45" y="21.80" font-size="16.97" textLength="9.48" lengthAdjust="spacingAndGlyphs">E</text><text x="282.15" y="21.80" font-size="16.97" textLength="12.57" lengthAdjust="spacingAndGlyphs">=</text><text x="295.95" y="21.80" font-size="16.97" textLength="9.54" lengthAdjust="spacingAndGlyphs">6</text><text x="306.55" y="21.80" font-size="16.97" textLength="9.54" lengthAdjust="spacingAndGlyphs">5</text><text x="317.15" y="21.80" font-size="16.97" textLength="9.54" lengthAdjust="spacingAndGlyphs">1</text><text x="327.76" y="21.80" font-size="16.97" textLength="9.54" lengthAdjust="spacingAndGlyphs">5</text><text x="338.10" y="21.80" font-size="16.97" textLength="4.77" lengthAdjust="spacingAndGlyphs">.</text><text x="343.66" y="21.80" font-size="16.97" textLength="9.54" lengthAdjust="spacingAndGlyphs">4</text><text x="354.26" y="21.80" font-size="16.97" textLength="9.54" lengthAdjust="spacingAndGlyphs">8</text><text x="364.87" y="21.80" font-size="16.97" textLength="9.54" lengthAdjust="spacingAndGlyphs">8</text><text x="375.47" y="21.80" font-size="16.97" textLength="9.54" lengthAdjust="spacingAndGlyphs">1</text><text x="386.08" y="21.80" font-size="16.97" textLength="9.54" lengthAdjust="spacingAndGlyphs">2</text><text x="396.68" y="21.80" font-size="16.97" textLength="9.54" lengthAdjust="spacingAndGlyphs">3</text><text x="407.28" y="21.80" font-size="16.97" textLength="9.54" lengthAdjust="spacingAndGlyphs">2</text><text x="417.89" y="21.80" font-size="16.97" textLength="9.54" lengthAdjust="spacingAndGlyphs">8</text><text x="428.49" y="21.80" font-size="16.97" textLength="9.54" lengthAdjust="spacingAndGlyphs">7</text><text x="439.10" y="21.80" font-size="16.97" textLength="9.54" lengthAdjust="spacingAndGlyphs">6</text><text x="449.70" y="21.80" font-size="16.97" textLength="9.54" lengthAdjust="spacingAndGlyphs">7</text><text x="460.30" y="21.80" font-size="16.97" textLength="9.54" lengthAdjust="spacingAndGlyphs">1</text><text x="470.64" y="21.80" font-size="16.97" textLength="4.77" lengthAdjust="spacingAndGlyphs">,</text><text x="481.69" y="21.80" font-size="16.97" textLength="12.94" lengthAdjust="spacingAndGlyphs">M</text><text x="495.92" y="21.80" font-size="16.97" textLength="10.26" lengthAdjust="spacingAndGlyphs">A</text><text x="507.26" y="21.80" font-size="16.97" textLength="9.05" lengthAdjust="spacingAndGlyphs">P</text><text x="517.33" y="21.80" font-size="16.97" textLength="9.48" lengthAdjust="spacingAndGlyphs">E</text><text x="528.04" y="21.80" font-size="16.97" textLength="12.57" lengthAdjust="spacingAndGlyphs">=</text><text x="541.83" y="21.80" font-size="16.97" textLength="9.54" lengthAdjust="spacingAndGlyphs">0</text><text x="552.17" y="21.80" font-size="16.97" textLength="4.77" lengthAdjust="spacingAndGlyphs">.</text><text x="557.73" y="21.80" font-size="16.97" textLength="9.54" lengthAdjust="spacingAndGlyphs">0</text><text x="568.34" y="21.80" font-size="16.97" textLength="9.54" lengthAdjust="spacingAndGlyphs">3</text><text x="578.94" y="21.80" font-size="16.97" textLength="9.54" lengthAdjust="spacingAndGlyphs">7</text><text x="589.55" y="21.80" font-size="16.97" textLength="9.54" lengthAdjust="spacingAndGlyphs">8</text><text x="600.15" y="21.80" font-size="16.97" textLength="9.54" lengthAdjust="spacingAndGlyphs">8</text><text x="610.75" y="21.80" font-size="16.97" textLength="9.54" lengthAdjust="spacingAndGlyphs">9</text><text x="621.36" y="21.80" font-size="16.97" textLength="9.54" lengthAdjust="spacingAndGlyphs">4</text><text x="631.96" y="21.80" font-size="16.97" textLength="9.54" lengthAdjust="spacingAndGlyphs">5</text><text x="642.57" y="21.80" font-size="16.97" textLength="9.54" lengthAdjust="spacingAndGlyphs">6</text><text x="653.17" y="21.80" font-size="16.97" textLength="9.54" lengthAdjust="spacingAndGlyphs">6</text><text x="663.77" y="21.80" font-size="16.97" textLength="9.54" lengthAdjust="spacingAndGlyphs">3</text><text x="674.38" y="21.80" font-size="16.97" textLength="9.54" lengthAdjust="spacingAndGlyphs">3</text><text x="684.98" y="21.80" font-size="16.97" textLength="9.54" lengthAdjust="spacingAndGlyphs">2</text><text x="695.59" y="21.80" font-size="16.97" textLength="9.54" lengthAdjust="spacingAndGlyphs">4</text><text x="706.19" y="21.80" font-size="16.97" textLength="9.54" lengthAdjust="spacingAndGlyphs">5</text><text x="716.80" y="21.80" font-size="16.97" textLength="9.54" lengthAdjust="spacingAndGlyphs">9</text><text x="727.40" y="21.80" font-size="16.97" textLength="9.54" lengthAdjust="spacingAndGlyphs">6</text><text x="738.00" y="21.80" font-size="16.97" textLength="9.54" lengthAdjust="spacingAndGlyphs">5</text>
</g>
</svg>
</body></html>
